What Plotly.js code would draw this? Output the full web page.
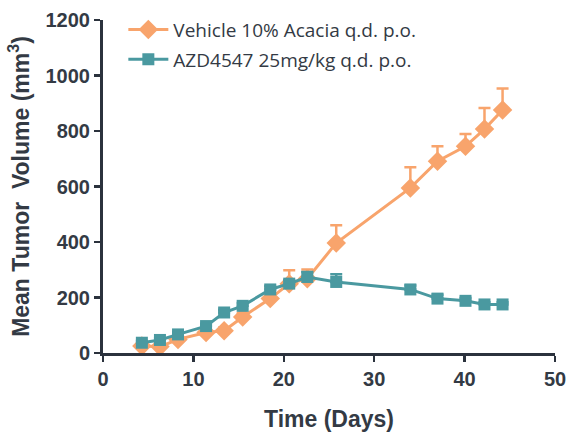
<!DOCTYPE html>
<html>
<head>
<meta charset="utf-8">
<script src="https://cdn.plot.ly/plotly-3.0.1.min.js"></script>
<style>html,body{margin:0;padding:0;background:#fff;}#chart{width:567px;height:434px;}</style>
</head>
<body>
<div id="chart"></div>
<script>
const days = [4.3, 6.3, 8.3, 11.4, 13.4, 15.45, 18.5, 20.6, 22.6, 25.8, 34.0, 37.0, 40.1, 42.2, 44.2];
const vehicleMean = [25, 23, 49, 74, 80, 130, 196, 250, 268, 396, 595, 691, 745, 807, 876];
const vehicleErr = [8, 8, 10, 10, 12, 14, 40, 48, 33, 64, 74, 54, 44, 76, 77];
const azdMean = [37, 47, 67, 97, 146, 170, 229, 250, 274, 256, 229, 196, 188, 175, 175];
const azdErr = [6, 6, 8, 8, 10, 10, 12, 12, 18, 28, 14, 14, 10, 8, 8];
const vehicleName = 'Vehicle 10% Acacia q.d. p.o.';
const azdName = 'AZD4547 25mg/kg q.d. p.o.';

const orange = '#f8a46c';
const teal = '#4a99a0';
const axisColor = '#2b323d';

const traces = [
  {
    x: days, y: vehicleMean, name: vehicleName, type: 'scatter', mode: 'lines+markers', legendgroup: 'veh',
    line: {color: orange, width: 3},
    marker: {symbol: 'diamond', size: 15, color: orange},
    error_y: {type: 'data', symmetric: false, array: vehicleErr, arrayminus: vehicleErr.map(() => 0), color: orange, thickness: 2.5, width: 6}
  },
  {
    x: days, y: azdMean, name: azdName, type: 'scatter', mode: 'lines+markers', legendgroup: 'azd',
    line: {color: teal, width: 3},
    marker: {symbol: 'square', size: 12, color: teal},
    error_y: {type: 'data', symmetric: false, array: azdErr, arrayminus: azdErr.map(() => 0), color: teal, thickness: 2.5, width: 6}
  }
];

const tickFont = {family: 'Liberation Sans, Arial, sans-serif', size: 20, color: '#333a44', weight: 'bold'};
const titleFont = {family: 'Liberation Sans, Arial, sans-serif', size: 23, color: '#333a44', weight: 'bold'};

const layout = {
  width: 567, height: 434,
  margin: {l: 103, r: 12, t: 19, b: 81},
  paper_bgcolor: '#fff', plot_bgcolor: '#fff',
  showlegend: true,
  legend: {x: 0.045, y: 1.025, xanchor: 'left', yanchor: 'top', bgcolor: 'rgba(0,0,0,0)',
    font: {family: 'Open Sans, sans-serif', size: 19, color: '#333a44'}, tracegroupgap: 2, itemwidth: 40},
  xaxis: {
    range: [0, 50], tickvals: [0, 10, 20, 30, 40, 50], showgrid: false, zeroline: false,
    showline: true, linecolor: axisColor, linewidth: 3, ticks: 'outside', ticklen: 6, tickwidth: 2.5, tickcolor: axisColor,
    tickfont: tickFont,
    title: {text: 'Time (Days)', font: titleFont, standoff: 22}
  },
  yaxis: {
    range: [0, 1200], tickvals: [0, 200, 400, 600, 800, 1000, 1200], showgrid: false, zeroline: false,
    showline: true, linecolor: axisColor, linewidth: 3, ticks: 'outside', ticklen: 6, tickwidth: 2.5, tickcolor: axisColor,
    tickfont: tickFont,
    title: {text: 'Mean Tumor  Volume (mm<sup>3</sup>)', font: titleFont, standoff: 10}
  }
};

Plotly.newPlot('chart', traces, layout, {displayModeBar: false, staticPlot: true});
</script>
</body>
</html>
